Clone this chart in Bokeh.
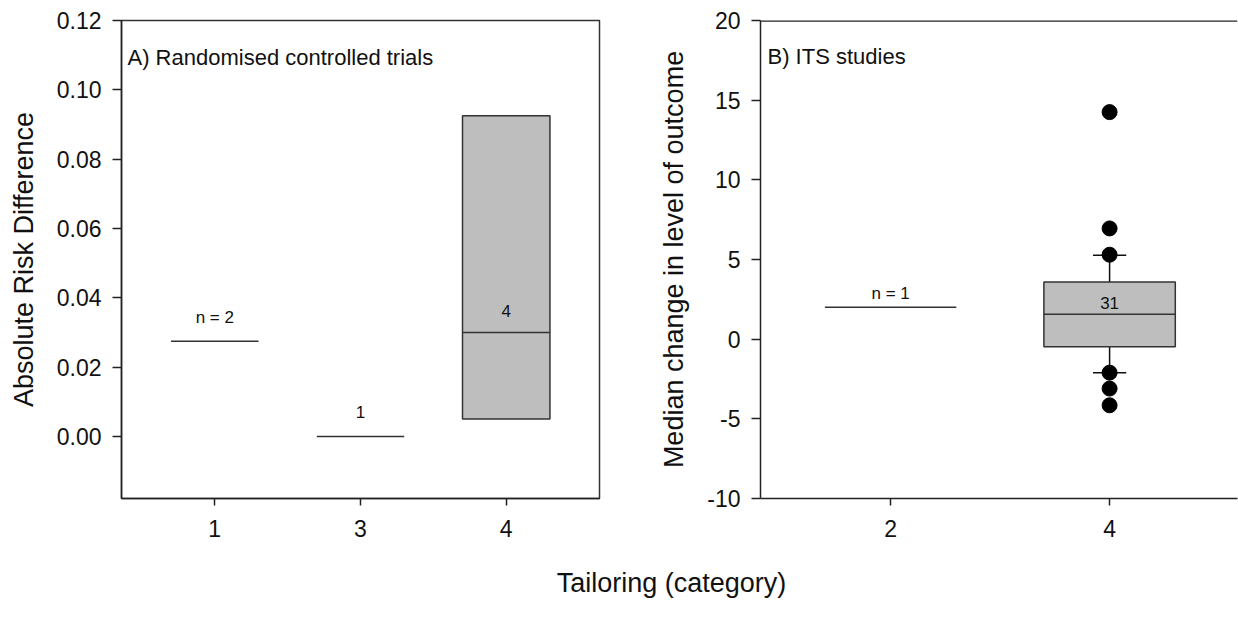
from bokeh.plotting import figure
from bokeh.models import Range1d, FixedTicker, Label, Span
from bokeh.layouts import column, row
from bokeh.embed import file_html
from bokeh.resources import INLINE
from bokeh.core.properties import value

FONT = "Liberation Sans"

# ---------------- Panel A data (Randomised controlled trials) ----------------
a_categories = ["1", "3", "4"]
a_single_cats = ["1", "3"]
a_single_values = [0.0275, 0.0]
a_single_labels = ["n = 2", "1"]
a_box_cats = ["4"]
a_box_q1 = [0.005]
a_box_median = [0.030]
a_box_q3 = [0.0925]
a_box_labels = ["4"]
a_yticks = [0.0, 0.02, 0.04, 0.06, 0.08, 0.10, 0.12]

# ---------------- Panel B data (ITS studies) ----------------
b_categories = ["2", "4"]
b_single_cats = ["2"]
b_single_values = [2.0]
b_single_labels = ["n = 1"]
b_box_cats = ["4"]
b_box_q1 = [-0.48]
b_box_median = [1.57]
b_box_q3 = [3.59]
b_whisker_low = [-2.1]
b_whisker_high = [5.27]
b_box_labels = ["31"]
b_outlier_cats = ["4", "4", "4", "4", "4", "4"]
b_outliers = [14.25, 6.95, 5.3, -2.1, -3.1, -4.15]
b_yticks = [-10, -5, 0, 5, 10, 15, 20]

HALF = 0.3
CAP = 0.076
BOX_FILL = "#bebebe"
LINE = "#333333"
AXIS = "#222222"


def style_axes(p):
    for ax in (p.xaxis[0], p.yaxis[0]):
        ax.axis_line_color = AXIS
        ax.axis_line_width = 1.5
        ax.major_tick_line_color = AXIS
        ax.major_tick_line_width = 1.5
        ax.major_tick_in = 0
        ax.minor_tick_line_color = None
        ax.major_label_text_font = FONT
        ax.major_label_text_font_size = "23px"
        ax.major_label_text_color = "#111111"
        ax.axis_label_text_font = FONT
        ax.axis_label_text_font_size = "27px"
        ax.axis_label_text_font_style = "normal"
        ax.axis_label_text_color = "#111111"
    p.xaxis[0].major_tick_out = 7
    p.xaxis[0].major_label_standoff = 14
    p.yaxis[0].major_tick_out = 9
    p.yaxis[0].major_label_standoff = 11
    p.yaxis[0].axis_label_standoff = 15
    p.xgrid.grid_line_color = None
    p.ygrid.grid_line_color = None


def txt(p, xs, ys, labels, yoff, size="17px"):
    p.text(x=xs, y=ys, text=labels, y_offset=yoff, text_align="center",
           text_baseline="middle", text_font=value(FONT),
           text_font_size=size, text_color="#111111")


# ---------------- Panel A ----------------
a_pos = {c: i for i, c in enumerate(a_categories)}
p1 = figure(width=640, height=543, output_backend="svg", toolbar_location=None,
            x_range=Range1d(-0.64, len(a_categories) - 1 + 0.64),
            y_range=Range1d(-0.0179, 0.12),
            min_border_left=121, min_border_right=41,
            min_border_top=20, min_border_bottom=45)
p1.outline_line_color = LINE
p1.outline_line_width = 1.5
p1.xaxis.ticker = FixedTicker(ticks=list(range(len(a_categories))))
p1.xaxis.major_label_overrides = {i: c for i, c in enumerate(a_categories)}
p1.yaxis.ticker = FixedTicker(ticks=a_yticks)
p1.yaxis.major_label_overrides = {t: f"{t:.2f}" for t in a_yticks}
p1.yaxis.axis_label = "Absolute Risk Difference"
style_axes(p1)

xs = [a_pos[c] for c in a_single_cats]
p1.segment(x0=[x - HALF for x in xs], x1=[x + HALF for x in xs],
           y0=a_single_values, y1=a_single_values, line_color=LINE, line_width=1.5)
txt(p1, xs, a_single_values, a_single_labels, -24)

xb = [a_pos[c] for c in a_box_cats]
p1.quad(left=[x - HALF for x in xb], right=[x + HALF for x in xb],
        bottom=a_box_q1, top=a_box_q3, fill_color=BOX_FILL,
        line_color=LINE, line_width=1.5)
p1.segment(x0=[x - HALF for x in xb], x1=[x + HALF for x in xb],
           y0=a_box_median, y1=a_box_median, line_color=LINE, line_width=1.5)
txt(p1, xb, a_box_median, a_box_labels, -21)

p1.add_layout(Label(x=-0.64, y=0.12, x_offset=6, y_offset=-37,
                    text="A) Randomised controlled trials", text_font=FONT,
                    text_font_size="22px", text_color="#111111",
                    text_baseline="alphabetic"))

# ---------------- Panel B ----------------
b_pos = {c: i for i, c in enumerate(b_categories)}
p2 = figure(width=598, height=543, output_backend="svg", toolbar_location=None,
            x_range=Range1d(-0.594, 1.584),
            y_range=Range1d(-10, 20),
            min_border_left=120, min_border_right=1,
            min_border_top=20, min_border_bottom=45)
p2.outline_line_color = None
p2.xaxis.ticker = FixedTicker(ticks=list(range(len(b_categories))))
p2.xaxis.major_label_overrides = {i: c for i, c in enumerate(b_categories)}
p2.yaxis.ticker = FixedTicker(ticks=b_yticks)
p2.yaxis.major_label_overrides = {t: str(t) for t in b_yticks}
p2.yaxis.axis_label = "Median change in level of outcome"
style_axes(p2)
p2.add_layout(Span(location=20, dimension="width", line_color=AXIS, line_width=2.5))

xs = [b_pos[c] for c in b_single_cats]
p2.segment(x0=[x - HALF for x in xs], x1=[x + HALF for x in xs],
           y0=b_single_values, y1=b_single_values, line_color=LINE, line_width=1.5)
txt(p2, xs, b_single_values, b_single_labels, -14)

xb = [b_pos[c] for c in b_box_cats]
# whiskers
p2.segment(x0=xb, x1=xb, y0=b_box_q3, y1=b_whisker_high, line_color="#111111", line_width=1.5)
p2.segment(x0=xb, x1=xb, y0=b_box_q1, y1=b_whisker_low, line_color="#111111", line_width=1.5)
p2.segment(x0=[x - CAP for x in xb], x1=[x + CAP for x in xb],
           y0=b_whisker_high, y1=b_whisker_high, line_color="#111111", line_width=1.5)
p2.segment(x0=[x - CAP for x in xb], x1=[x + CAP for x in xb],
           y0=b_whisker_low, y1=b_whisker_low, line_color="#111111", line_width=1.5)
p2.quad(left=[x - HALF for x in xb], right=[x + HALF for x in xb],
        bottom=b_box_q1, top=b_box_q3, fill_color=BOX_FILL,
        line_color=LINE, line_width=1.5)
p2.segment(x0=[x - HALF for x in xb], x1=[x + HALF for x in xb],
           y0=b_box_median, y1=b_box_median, line_color=LINE, line_width=1.5)
txt(p2, xb, b_box_median, b_box_labels, -11)
p2.scatter(x=[b_pos[c] for c in b_outlier_cats], y=b_outliers, size=15,
           fill_color="black", line_color="black")

p2.add_layout(Label(x=-0.594, y=20, x_offset=7, y_offset=-36,
                    text="B) ITS studies", text_font=FONT,
                    text_font_size="22px", text_color="#111111",
                    text_baseline="alphabetic"))

# ---------------- Shared x title ----------------
p3 = figure(width=1238, height=74, output_backend="svg", toolbar_location=None,
            x_range=Range1d(0, 1238), y_range=Range1d(0, 74),
            min_border=0)
p3.axis.visible = False
p3.xgrid.grid_line_color = None
p3.ygrid.grid_line_color = None
p3.outline_line_color = None
p3.text(x=[671], y=[35], text=["Tailoring (category)"], text_align="center",
        text_baseline="middle", text_font=value(FONT), text_font_size="27px",
        text_color="#111111")

layout = column(row(p1, p2), p3)
open("out.html", "w").write(file_html(layout, INLINE))
